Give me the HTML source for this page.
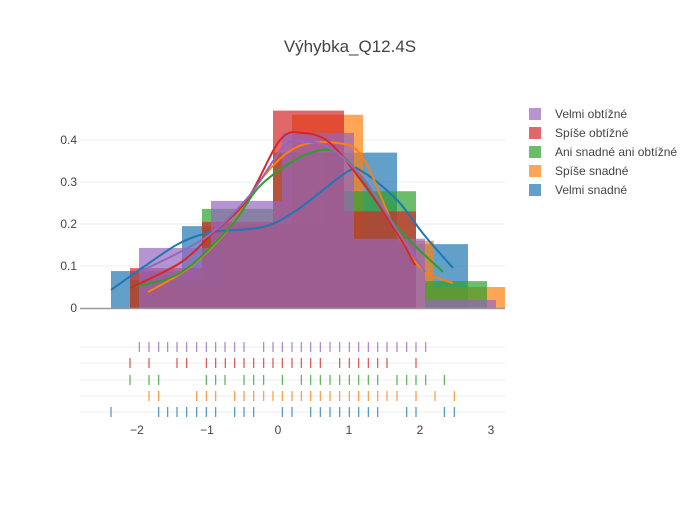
<!DOCTYPE html>
<html><head><meta charset="utf-8"><style>
body{margin:0;background:#fff}
svg{font-family:"Liberation Sans","DejaVu Sans",sans-serif}
</style></head><body>
<svg id="s" width="700" height="500" xmlns="http://www.w3.org/2000/svg">
<rect width="700" height="500" fill="#fff"/>
<text x="350" y="52" text-anchor="middle" font-size="17" fill="#444">Výhybka_Q12.4S</text>
<g stroke="#eee" stroke-width="1">
<line x1="80" x2="505" y1="266" y2="266"/><line x1="80" x2="505" y1="224" y2="224"/>
<line x1="80" x2="505" y1="182" y2="182"/><line x1="80" x2="505" y1="140" y2="140"/>
<line x1="80" x2="505" y1="347" y2="347"/><line x1="80" x2="505" y1="363" y2="363"/>
<line x1="80" x2="505" y1="380" y2="380"/><line x1="80" x2="505" y1="396" y2="396"/>
<line x1="80" x2="505" y1="412" y2="412"/>
</g>
<g font-size="12" fill="#444" text-anchor="end">
<text x="77" y="312">0</text><text x="77" y="270">0.1</text><text x="77" y="228">0.2</text>
<text x="77" y="186">0.3</text><text x="77" y="144">0.4</text>
</g>
<g font-size="12" fill="#444" text-anchor="middle">
<text x="137" y="434">−2</text><text x="207" y="434">−1</text><text x="278" y="434">0</text>
<text x="349" y="434">1</text><text x="420" y="434">2</text><text x="491" y="434">3</text>
</g>
<g id="bars"></g>
<line x1="80" x2="505" y1="308.5" y2="308.5" stroke="#999" stroke-width="1.5"/>
<g id="curves" fill="none" stroke-width="2" stroke-linejoin="round"></g>
<g id="rug" stroke-width="1.2"></g>
<g font-size="12" fill="#444">
<rect x="529" y="108" width="12" height="12" fill="#9467bd" opacity="0.7"/><text x="555" y="118">Velmi obtížné</text>
<rect x="529" y="127" width="12" height="12" fill="#d62728" opacity="0.7"/><text x="555" y="137">Spíše obtížné</text>
<rect x="529" y="146" width="12" height="12" fill="#2ca02c" opacity="0.7"/><text x="555" y="156">Ani snadné ani obtížné</text>
<rect x="529" y="165" width="12" height="12" fill="#ff7f0e" opacity="0.7"/><text x="555" y="175">Spíše snadné</text>
<rect x="529" y="184" width="12" height="12" fill="#1f77b4" opacity="0.7"/><text x="555" y="194">Velmi snadné</text>
</g>
</svg>
<script>
var NS="http://www.w3.org/2000/svg";
function el(p,t,a){var e=document.createElementNS(NS,t);for(var k in a)e.setAttribute(k,a[k]);document.getElementById(p).appendChild(e);}
var B=[
["#1f77b4",[[111,182,.088],[182,253,.195],[253,324,.2],[324,397,.37],[397,468,.152]]],
["#ff7f0e",[[150,221,.05],[221,292,.2],[292,363,.46],[363,434,.16],[434,505,.05]]],
["#2ca02c",[[130,202,.066],[202,273,.236],[273,344,.37],[344,416,.278],[425,487,.064]]],
["#d62728",[[130,202,.095],[202,273,.205],[273,344,.47],[344,416,.23]]],
["#9467bd",[[139,211,.143],[211,282,.255],[282,354,.417],[354,425,.165],[425,496,.019]]]];
B.forEach(function(s){s[1].forEach(function(b){var h=b[2]*420;el("bars","rect",{x:b[0],y:308-h,width:b[1]-b[0],height:h,fill:s[0],"fill-opacity":0.7});});});
var C=[
["#1f77b4","111,290 145,266 180,243 213,232 263,227 297,210 347,172 363,172 397,200 425,236 453,268"],
["#ff7f0e","148,292 190,267 230,227 263,177 297,147 337,143 363,158 397,233 423,270 453,283"],
["#2ca02c","130,287 180,273 230,227 263,183 313,152 347,160 397,227 443,272"],
["#d62728","130,288 180,263 213,233 247,200 280,140 303,133 330,143 363,183 397,233 415,265"],
["#9467bd","139,272 180,252 213,232 250,195 285,145 305,142 330,148 363,178 397,230 425,272"]];
function smooth(str){var p=str.split(" ").map(function(q){return q.split(",").map(Number);});
var d="M"+p[0][0]+","+p[0][1];
for(var i=0;i<p.length-1;i++){var a=p[Math.max(i-1,0)],b=p[i],c=p[i+1],e=p[Math.min(i+2,p.length-1)];
d+=" C"+(b[0]+(c[0]-a[0])/6)+","+(b[1]+(c[1]-a[1])/6)+" "+(c[0]-(e[0]-b[0])/6)+","+(c[1]-(e[1]-b[1])/6)+" "+c[0]+","+c[1];}
return d;}
C.forEach(function(c){el("curves","path",{d:smooth(c[1]),stroke:c[0]});});
var R=[
["#9467bd",347,[178,207,236,263,291,320,350,379,407,435,464,492,551,579,607,636,664,692,721,750,779,808,836,865,893,921,951,980,1008,1037]],
["#d62728",363,[150,207,291,320,379,407,436,464,492,521,551,579,607,636,664,692,721,779,808,836,865,893,921,1008]],
["#2ca02c",380,[150,207,236,379,407,435,492,521,551,607,664,692,721,750,779,808,836,865,893,951,980,1008,1037,1093]],
["#ff7f0e",396,[207,236,350,379,407,464,492,521,551,579,607,636,664,692,721,750,779,808,836,865,893,921,951,1008,1065,1123]],
["#1f77b4",412,[93,236,263,291,320,350,379,407,464,492,521,607,636,692,721,750,779,808,836,865,893,980,1008,1093,1123]]];
R.forEach(function(r){r[2].forEach(function(z){var x=z/3+80;el("rug","line",{x1:x,x2:x,y1:r[1]-5,y2:r[1]+5,stroke:r[0],opacity:0.8});});});
</script>
</body></html>
